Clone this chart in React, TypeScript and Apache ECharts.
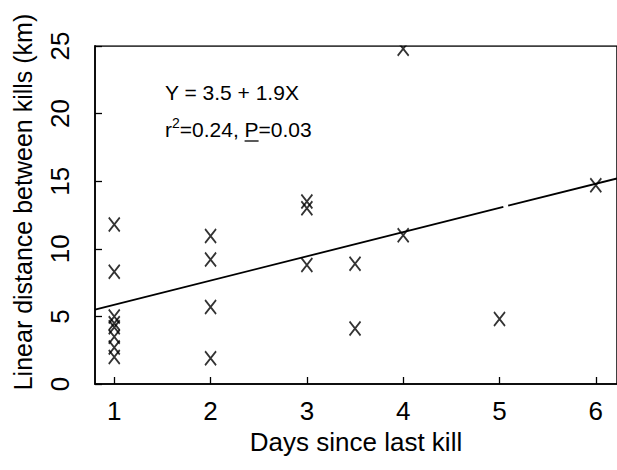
import React, { useEffect, useRef } from "react";
import * as echarts from "echarts";

const xTicks = [1, 2, 3, 4, 5, 6];
const pointDays = [1, 1, 1, 1, 1, 1, 1, 1, 2, 2, 2, 2, 3, 3, 3, 3.5, 3.5, 4, 4, 5, 6];
const pointKm = [11.8, 8.3, 5.0, 4.5, 4.2, 3.5, 2.7, 2.0, 10.95, 9.2, 5.7, 1.9, 13.5, 13.0, 8.8, 8.9, 4.1, 24.8, 11.0, 4.8, 14.7];
const trendDaysA = [0.8, 5.04];
const trendKmA = [5.5, 13.1];
const trendDaysB = [5.09, 6.22];
const trendKmB = [13.2, 15.2];
const eqLine1 = "Y = 3.5 + 1.9X";
const statR = "r";
const statSup = "2";
const statMid = "=0.24, ";
const statP = "P";
const statEnd = "=0.03";
const xTitle = "Days since last kill";
const yTitle = "Linear distance between kills (km)";

const FONT = "'Liberation Sans', Arial, Helvetica, sans-serif";

export default function App() {
  const ref = useRef<HTMLDivElement>(null);
  useEffect(() => {
    if (!ref.current) return;
    const chart = echarts.init(ref.current, null, { renderer: "svg" });

    const cv = document.createElement("canvas").getContext("2d")!;
    const measure = (t: string, size: number) => {
      cv.font = `${size}px 'Liberation Sans'`;
      return cv.measureText(t).width;
    };
    const annX = 165;
    const annFs = 21;
    const supFs = 14;
    const pStart = annX + measure(statR, annFs) + measure(statSup, supFs) + measure(statMid, annFs);
    const pW = measure(statP, annFs);

    const points = pointDays.map((d, i) => [d, pointKm[i]]);
    const segA = trendDaysA.map((d, i) => [d, trendKmA[i]]);
    const segB = trendDaysB.map((d, i) => [d, trendKmB[i]]);

    chart.setOption({
      animation: false,
      backgroundColor: "#fff",
      textStyle: { fontFamily: FONT, color: "#000" },
      grid: {
        left: 95,
        right: -5,
        top: 46,
        bottom: 86,
        show: true,
        borderColor: "#000",
        borderWidth: 1.5,
        containLabel: false,
      },
      xAxis: {
        type: "value",
        min: 0.8,
        max: 6.22,
        name: xTitle,
        nameLocation: "middle",
        nameGap: 41,
        nameTextStyle: { fontSize: 26, color: "#000", fontFamily: FONT },
        axisLine: { show: true, lineStyle: { color: "#000", width: 1.5 } },
        axisTick: { show: true, inside: true, length: 7, customValues: xTicks, lineStyle: { color: "#000", width: 1.3 } },
        axisLabel: { show: true, customValues: xTicks, fontSize: 26, color: "#000", margin: 14, fontFamily: FONT },
        splitLine: { show: false },
      },
      yAxis: {
        type: "value",
        min: 0,
        max: 25,
        interval: 5,
        axisLine: { show: true, lineStyle: { color: "#000", width: 1.5 } },
        axisTick: { show: true, inside: true, length: 7, lineStyle: { color: "#000", width: 1.3 } },
        axisLabel: { show: true, rotate: 90, fontSize: 26, color: "#000", margin: 22, fontFamily: FONT },
        splitLine: { show: false },
      },
      series: [
        {
          type: "line",
          data: segA,
          symbol: "none",
          lineStyle: { color: "#000", width: 1.8 },
          z: 3,
        },
        {
          type: "line",
          data: segB,
          symbol: "none",
          lineStyle: { color: "#000", width: 1.8 },
          z: 3,
        },
        {
          type: "scatter",
          data: points,
          symbol: "path://M0 0L10 12M10 0L0 12",
          symbolSize: [11, 14],
          itemStyle: { color: "rgba(0,0,0,0)", borderColor: "#000", borderWidth: 1.9 },
          z: 4,
        },
      ],
      graphic: [
        {
          type: "rect",
          z: 100,
          shape: { x: 96, y: 0, width: 530, height: 45.2 },
          style: { fill: "#fff" },
          silent: true,
        },
        {
          type: "text",
          z: 101,
          x: 23,
          y: 202,
          rotation: Math.PI / 2,
          style: {
            text: yTitle,
            fontSize: 25,
            fontFamily: FONT,
            fill: "#000",
            align: "center",
            verticalAlign: "middle",
            textAlign: "center",
            textVerticalAlign: "middle",
          },
        },
        {
          type: "text",
          z: 101,
          x: annX,
          y: 92,
          style: {
            text: eqLine1,
            fontSize: annFs,
            fontFamily: FONT,
            fill: "#000",
            align: "left",
            verticalAlign: "middle",
            textAlign: "left",
            textVerticalAlign: "middle",
          },
        },
        {
          type: "text",
          z: 101,
          x: annX,
          y: 128,
          style: {
            text: `{t|${statR}}{s|${statSup}}{t|${statMid}}{t|${statP}}{t|${statEnd}}`,
            fontFamily: FONT,
            fill: "#000",
            align: "left",
            verticalAlign: "middle",
            textAlign: "left",
            textVerticalAlign: "middle",
            rich: {
              t: { fontSize: annFs, fontFamily: FONT, fill: "#000", verticalAlign: "bottom", lineHeight: 24 },
              s: { fontSize: supFs, fontFamily: FONT, fill: "#000", verticalAlign: "top", lineHeight: 15 },
            },
          },
        },
        {
          type: "line",
          z: 101,
          shape: { x1: pStart, y1: 141, x2: pStart + pW, y2: 141 },
          style: { stroke: "#000", lineWidth: 1.3 },
        },
      ],
    });
    return () => chart.dispose();
  }, []);
  return <div ref={ref} style={{ position: "fixed", left: 0, top: 0, width: 617, height: 470 }} />;
}
